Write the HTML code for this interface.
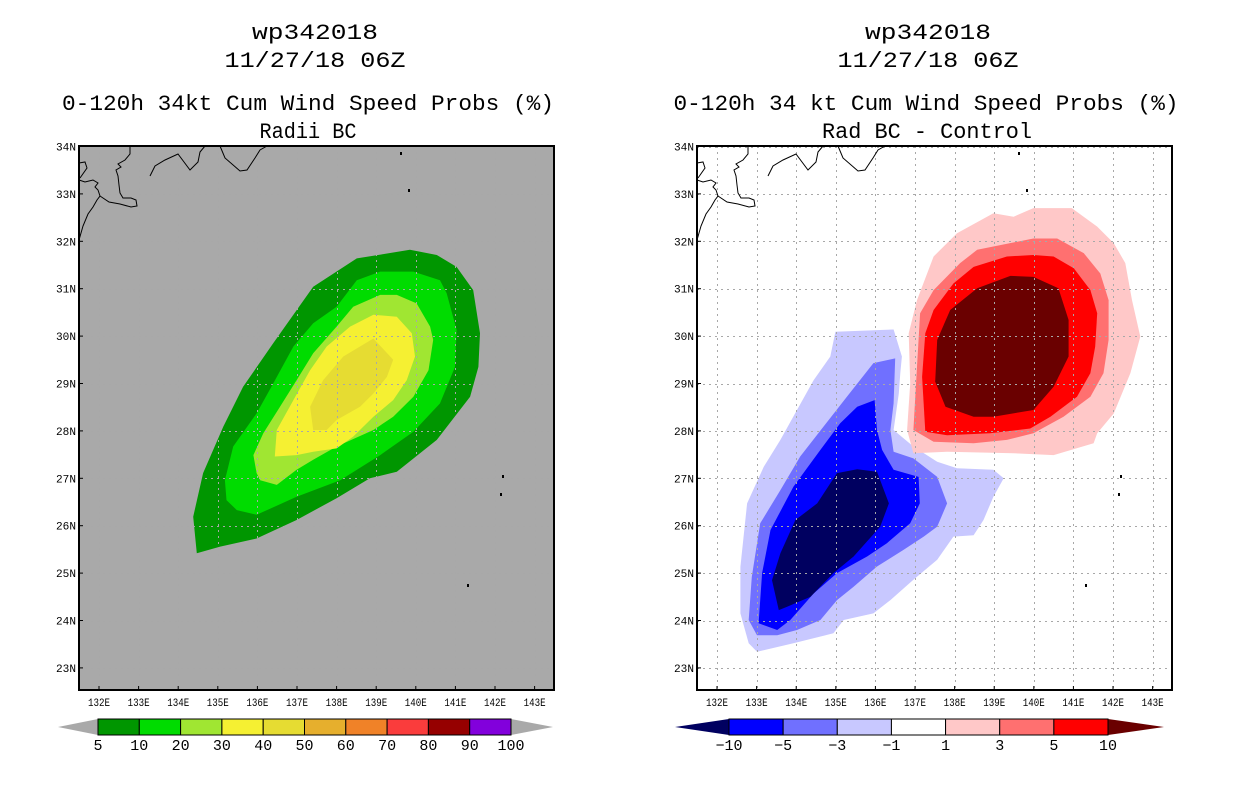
<!DOCTYPE html>
<html><head><meta charset="utf-8"><style>
html,body{margin:0;padding:0;background:#fff;}
svg{display:block;}
text{font-family:"Liberation Mono","DejaVu Sans Mono",monospace;fill:#000;}
</style></head><body>
<svg id="chart" width="1236" height="800" viewBox="0 0 1236 800" xmlns="http://www.w3.org/2000/svg"></svg>
<script>
// ---------- data ----------
const lonTicks = [132,133,134,135,136,137,138,139,140,141,142,143];
const latTicks = [34,33,32,31,30,29,28,27,26,25,24,23];
const leftLevels = ['5','10','20','30','40','50','60','70','80','90','100'];
const leftColors = ['#009600','#00dc00','#a0e632','#f5f032','#e6dc32','#e6af2d','#f08228','#fa3c3c','#960000','#8200dc'];
const rightLevels = ['-10','-5','-3','-1','1','3','5','10'];
const rightColors = ['#0000ff','#7070ff','#c8c8ff','#ffffff','#ffc8c8','#ff7070','#ff0000'];
const rightLowColor = '#000060';
const rightHighColor = '#6a0000';

// left panel contours (lon, lat) — 5,10,20,30,40 %
const probLon5 = [134.47,134.38,134.63,135.14,135.64,136.40,137.41,138.51,139.85,140.53,141.03,141.45,141.62,141.58,141.37,140.53,139.52,138.84,138.00,136.99,135.98,135.06];
const probLat5 = [25.42,26.19,27.11,28.09,28.93,29.85,31.04,31.64,31.82,31.71,31.46,30.97,30.06,29.35,28.72,27.81,27.14,27.00,26.58,26.12,25.73,25.56];
const probLon10 = [135.18,135.39,135.98,136.40,136.91,137.41,138.00,138.51,139.10,139.94,140.61,140.78,141.03,140.99,140.61,139.94,139.10,138.09,136.99,135.98,135.48,135.22];
const probLat10 = [26.96,27.67,28.37,29.00,29.78,30.27,30.62,31.18,31.36,31.36,31.18,30.90,30.13,29.35,28.58,27.98,27.49,26.96,26.61,26.23,26.33,26.54];
const probLon20 = [135.98,135.90,136.15,136.57,136.99,137.41,138.00,138.42,139.10,139.52,140.02,140.36,140.44,140.32,139.94,139.43,138.93,138.00,137.41,136.99,136.49,136.07];
const probLat20 = [27.11,27.49,27.95,28.51,29.07,29.64,30.20,30.62,30.87,30.87,30.69,30.20,29.92,29.28,28.72,28.30,28.02,27.67,27.39,27.18,26.86,26.96];
const probLon30 = [136.44,136.49,136.91,137.33,137.75,138.34,138.93,139.52,139.90,139.98,139.77,139.43,138.93,138.42,138.00,137.41,136.99];
const probLat30 = [27.46,28.02,28.65,29.28,29.78,30.20,30.45,30.41,30.06,29.57,29.07,28.65,28.30,27.88,27.63,27.56,27.49];
const probLon40 = [137.41,137.33,137.66,138.17,138.93,139.43,139.27,138.93,138.59,138.00,137.75];
const probLat40 = [28.02,28.51,29.07,29.57,29.95,29.50,29.14,28.79,28.51,28.23,28.02];

// right panel contours (difference)
const diffLonM1 = [133.01,132.80,132.59,132.59,132.76,133.18,133.60,134.02,134.44,134.86,134.99,136.46,136.67,136.63,136.59,136.46,136.96,137.56,138.06,138.98,139.24,138.98,138.73,138.48,137.97,137.56,136.96,136.38,135.95,135.20,134.94,133.93];
const diffLatM1 = [23.34,23.52,24.15,25.13,26.47,27.24,27.81,28.44,29.07,29.57,30.09,30.14,29.57,29.22,28.79,28.02,27.67,27.35,27.21,27.18,27.00,26.61,26.12,25.80,25.77,25.28,24.86,24.43,24.15,24.01,23.73,23.52];
const diffLonM3 = [133.52,133.01,132.80,132.88,133.09,133.60,134.10,134.69,135.28,135.95,136.50,136.46,136.38,136.46,136.96,137.56,137.81,137.56,137.22,136.71,136.04,135.45,135.03,134.61,134.02];
const diffLatM3 = [23.69,23.69,24.01,24.92,26.05,26.75,27.46,28.09,28.72,29.43,29.53,28.58,28.02,27.56,27.42,27.03,26.47,25.98,25.77,25.49,25.14,24.71,24.43,24.01,23.80];
const diffLonM5 = [133.52,133.05,133.14,133.35,133.93,134.61,135.11,135.54,135.98,136.04,136.17,136.46,137.09,137.12,136.88,136.29,135.79,135.03,134.44,133.85];
const diffLatM5 = [23.80,23.94,25.00,25.91,26.82,27.60,28.16,28.51,28.65,28.02,27.60,27.18,27.03,26.47,26.05,25.63,25.35,25.00,24.57,24.01];
const diffLonM10 = [133.56,133.39,133.60,133.98,134.53,135.03,135.54,136.04,136.34,136.12,135.45,134.94,134.36,133.77];
const diffLatM10 = [24.22,24.85,25.42,26.12,26.47,27.11,27.19,27.14,26.47,25.98,25.35,25.00,24.50,24.29];
const diffLonP1 = [136.96,136.80,136.88,136.84,137.05,137.47,138.06,138.98,139.49,139.99,140.96,141.60,142.02,142.31,142.48,142.69,142.44,142.02,141.60,141.51,140.50,139.49,137.81];
const diffLatP1 = [27.53,28.02,29.00,30.06,30.76,31.68,32.17,32.59,32.52,32.70,32.70,32.31,31.96,31.54,30.76,29.99,29.22,28.37,27.95,27.74,27.49,27.53,27.56];
const diffLonP3 = [137.47,136.96,137.05,137.13,137.47,138.14,138.57,139.99,140.59,141.26,141.68,141.89,141.89,141.76,141.43,140.75,139.99,139.32,138.48];
const diffLatP3 = [27.77,28.02,29.35,30.48,30.97,31.54,31.82,32.06,32.06,31.75,31.32,30.76,29.92,29.22,28.72,28.30,27.95,27.81,27.74];
const diffLonP5 = [137.26,137.18,137.26,137.47,137.97,138.48,139.32,139.99,140.50,141.01,141.43,141.60,141.55,141.43,141.09,140.42,139.91,138.90,137.81];
const diffLatP5 = [27.98,29.14,30.06,30.55,31.11,31.46,31.68,31.71,31.68,31.43,30.97,30.48,29.78,29.22,28.72,28.30,28.05,27.95,27.91];
const diffLonP10 = [137.77,137.51,137.56,137.89,138.57,139.41,139.99,140.62,140.88,140.88,140.50,139.99,138.98,138.48];
const diffLatP10 = [28.51,29.04,29.92,30.55,31.01,31.27,31.25,31.01,30.34,29.57,28.93,28.44,28.30,28.30];

// ---------- helpers ----------
const NS = 'http://www.w3.org/2000/svg';
const svg = document.getElementById('chart');
function mk(tag, attrs, parent) {
  const e = document.createElementNS(NS, tag);
  for (const k in attrs) e.setAttribute(k, attrs[k]);
  (parent || svg).appendChild(e);
  return e;
}
const PW = 475, PH = 544, PT = 146;
const panels = [{x0: 79, name: 'left'}, {x0: 697, name: 'right'}];
function xScale(p, lon) { return p.x0 + 20 + (lon - 132) * 39.6; }
function yScale(lat) { return 146.5 + (34 - lat) * 47.4; }
function poly(p, lons, lats, color, name, g) {
  const pts = lons.map((l, i) => xScale(p, l).toFixed(1) + ',' + yScale(lats[i]).toFixed(1)).join(' ');
  const el = mk('polygon', {points: pts, fill: color}, g);
  
  
}
function txt(x, y, s, size, anchor, name, len) {
  const t = mk('text', {x: x, y: y, 'font-size': size, 'text-anchor': anchor || 'middle'});
  if (len) { t.setAttribute('textLength', len); t.setAttribute('lengthAdjust', 'spacingAndGlyphs'); }
  t.textContent = s;
  
  
  return t;
}

// ---------- titles ----------
txt(315, 39, 'wp342018', 22, 'middle', 'left-title-storm', 126);
txt(315, 67, '11/27/18 06Z', 22, 'middle', 'left-title-time', 181);
txt(308, 110, '0-120h 34kt Cum Wind Speed Probs (%)', 22, 'middle', 'left-title-product', 492);
txt(308, 138, 'Radii BC', 22, 'middle', 'left-subtitle', 97);
txt(928, 39, 'wp342018', 22, 'middle', 'right-title-storm', 126);
txt(928, 67, '11/27/18 06Z', 22, 'middle', 'right-title-time', 181);
txt(926, 110, '0-120h 34 kt Cum Wind Speed Probs (%)', 22, 'middle', 'right-title-product', 505);
txt(927, 138, 'Rad BC - Control', 22, 'middle', 'right-subtitle', 210);

// ---------- panels ----------
const coastPaths = [
  'M0,94 L4,80 L9,68 L14,61 L18,54 L21,50 L19,44 L16,41 L19,37 L14,34 L6,36 L0,34',
  'M0,17 L6,16 L8,22 L1,32',
  'M21,50 L30,56 L41,58 L52,61 L58,60 L57,54 L52,52 L44,52 L41,47 L40,39 L39,30 L37,24 L42,21 L39,18 L46,14 L51,8 L51,0',
  'M71,30 L76,20 L86,14 L99,8 L111,24 L119,16 L121,6 L126,0',
  'M141,0 L146,12 L161,25 L168,24 L176,12 L181,4 L188,0'
];
const islandMarks = [[321,6],[329,43],[423,329],[421,347],[388,438]];

panels.forEach((p, pi) => {
  const g = mk('g', {});
  
  
  const bg = mk('rect', {x: p.x0, y: PT, width: PW, height: PH, fill: pi === 0 ? '#a9a9a9' : '#ffffff'}, g);
  
  
  const cg = mk('g', {}, g);
  
  
  if (pi === 0) {
    poly(p, probLon5, probLat5, leftColors[0], 'contour-5pct', cg);
    poly(p, probLon10, probLat10, leftColors[1], 'contour-10pct', cg);
    poly(p, probLon20, probLat20, leftColors[2], 'contour-20pct', cg);
    poly(p, probLon30, probLat30, leftColors[3], 'contour-30pct', cg);
    poly(p, probLon40, probLat40, leftColors[4], 'contour-40pct', cg);
  } else {
    poly(p, diffLonM1, diffLatM1, rightColors[2], 'contour-minus1', cg);
    poly(p, diffLonM3, diffLatM3, rightColors[1], 'contour-minus3', cg);
    poly(p, diffLonM5, diffLatM5, rightColors[0], 'contour-minus5', cg);
    poly(p, diffLonM10, diffLatM10, rightLowColor, 'contour-minus10', cg);
    poly(p, diffLonP1, diffLatP1, rightColors[4], 'contour-plus1', cg);
    poly(p, diffLonP3, diffLatP3, rightColors[5], 'contour-plus3', cg);
    poly(p, diffLonP5, diffLatP5, rightColors[6], 'contour-plus5', cg);
    poly(p, diffLonP10, diffLatP10, rightHighColor, 'contour-plus10', cg);
  }
  // grid
  const gg = mk('g', {stroke: '#a8a8a8', 'stroke-width': 1, 'stroke-dasharray': '2,4'}, g);
  
  
  lonTicks.forEach(l => {
    const x = Math.round(xScale(p, l)) + 0.5;
    const ln = mk('line', {x1: x, x2: x, y1: PT, y2: PT + PH}, gg);
    
    
  });
  latTicks.forEach(l => {
    const y = Math.round(yScale(l)) + 0.5;
    const ln = mk('line', {x1: p.x0, x2: p.x0 + PW, y1: y, y2: y}, gg);
    
    
  });
  // coast
  const co = mk('g', {transform: 'translate(' + p.x0 + ',' + PT + ')', fill: 'none', stroke: '#000', 'stroke-width': 1}, g);
  
  
  coastPaths.forEach(d => mk('path', {d: d}, co));
  islandMarks.forEach(m => mk('rect', {x: m[0], y: m[1], width: 2, height: 3, fill: '#000', stroke: 'none'}, co));
  // frame
  const fr = mk('rect', {x: p.x0, y: PT, width: PW, height: PH, fill: 'none', stroke: '#000', 'stroke-width': 2}, g);
  
  
  // axis labels
  lonTicks.forEach(l => {
    const x = xScale(p, l);
    mk('line', {x1: x, x2: x, y1: PT + PH, y2: PT + PH - 4, stroke: '#000'}, g);
    txt(x, 706, l + 'E', 11, 'middle', 'x-tick-label', 22);
  });
  latTicks.forEach(l => {
    const y = yScale(l);
    mk('line', {x1: p.x0, x2: p.x0 + 4, y1: y, y2: y, stroke: '#000'}, g);
    txt(p.x0 - 3, y + 4, l + 'N', 11, 'end', 'y-tick-label', 20);
  });
});

// ---------- left colorbar ----------
const lb = mk('g', {});


const lbx0 = 98, lbw = (511 - 98) / leftColors.length, cy0 = 719, cy1 = 735;
mk('polygon', {points: '58,727 ' + lbx0 + ',' + cy0 + ' ' + lbx0 + ',' + cy1, fill: '#a9a9a9'}, lb);
mk('polygon', {points: '553,727 511,' + cy0 + ' 511,' + cy1, fill: '#a9a9a9'}, lb);
leftColors.forEach((c, i) => {
  const r = mk('rect', {x: lbx0 + i * lbw, y: cy0, width: lbw, height: cy1 - cy0, fill: c, stroke: '#000', 'stroke-width': 1}, lb);
  
  
});
leftLevels.forEach((s, i) => txt(lbx0 + i * lbw, 750, s, 15, 'middle', 'colorbar-label'));

// ---------- right colorbar ----------
const rb = mk('g', {});


const rbx0 = 729, rbw = (1108 - 729) / rightColors.length;
mk('polygon', {points: '675,727 ' + rbx0 + ',' + cy0 + ' ' + rbx0 + ',' + cy1, fill: rightLowColor}, rb);
mk('polygon', {points: '1164,727 1108,' + cy0 + ' 1108,' + cy1, fill: rightHighColor}, rb);
rightColors.forEach((c, i) => {
  const r = mk('rect', {x: rbx0 + i * rbw, y: cy0, width: rbw, height: cy1 - cy0, fill: c, stroke: '#000', 'stroke-width': 1}, rb);
  
  
});
rightLevels.forEach((s, i) => txt(rbx0 + i * rbw, 750, s.replace('-', '\u2212'), 15, 'middle', 'colorbar-label'));
</script>
</body></html>
